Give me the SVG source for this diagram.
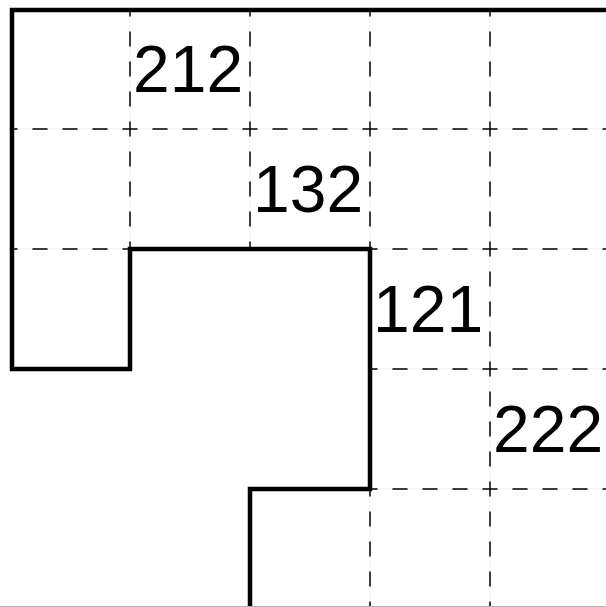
<svg xmlns="http://www.w3.org/2000/svg" width="606" height="607" viewBox="0 0 606 607">
<style>
.guide{stroke:#f0f0f0;stroke-width:1;fill:none}
.dash{stroke:#000;stroke-width:1.5;fill:none;stroke-dasharray:15 15;stroke-dashoffset:7.5}
.thick{stroke:#000;stroke-width:4.5;fill:none;stroke-linejoin:miter;stroke-linecap:square}
.lbl{font-family:"Liberation Sans",Arial,sans-serif;font-size:66px;fill:#000}
</style>
<rect width="606" height="607" fill="#fff"/>
<g id="grid">
  <path class="guide" d="M12 129H606M12 249H130M370 249H606M370 369H606M370 489H606M130 10V249M250 10V249M370 10V249M370 489V607M490 10V607"/>
  <path class="dash" d="M10 129H640M10 249H130M370 249H640M370 369H640M370 489H640"/>
  <path class="dash" d="M130 9V249M250 9V249M370 9V249M370 489V640M490 9V640"/>
</g>
<g id="outline">
  <path class="thick" d="M608 10H12V369H130V249H370V489H250V612"/>
</g>
<g id="cell-212"><text class="lbl" x="133" y="92">212</text></g>
<g id="cell-132"><text class="lbl" x="253" y="212">132</text></g>
<g id="cell-121"><text class="lbl" x="373" y="332">121</text></g>
<g id="cell-222"><text class="lbl" x="493" y="452">222</text></g>
<line x1="0" y1="606.5" x2="606" y2="606.5" stroke="#b0b0b0" stroke-width="1"/>
</svg>
